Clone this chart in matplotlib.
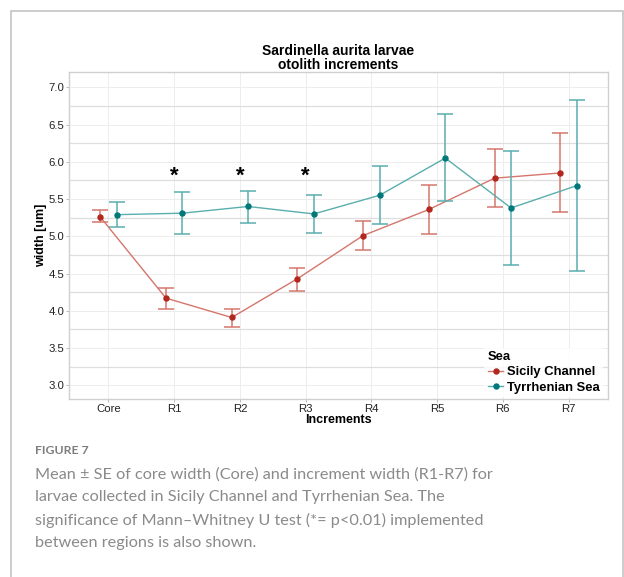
import numpy as np
import matplotlib.pyplot as plt
from matplotlib.lines import Line2D
from matplotlib.patches import Rectangle

# values
increments = ['Core', 'R1', 'R2', 'R3', 'R4', 'R5', 'R6', 'R7']
sicily_mean = [5.26, 4.17, 3.91, 4.43, 5.01, 5.36, 5.78, 5.85]
sicily_lo = [5.19, 4.03, 3.78, 4.27, 4.81, 5.03, 5.39, 5.32]
sicily_hi = [5.35, 4.30, 4.03, 4.58, 5.21, 5.69, 6.17, 6.38]
tyrr_mean = [5.29, 5.31, 5.40, 5.30, 5.55, 6.05, 5.38, 5.68]
tyrr_lo = [5.12, 5.03, 5.18, 5.04, 5.16, 5.47, 4.61, 4.53]
tyrr_hi = [5.46, 5.60, 5.61, 5.56, 5.95, 6.64, 6.14, 6.83]
signif = ['R1', 'R2', 'R3']

red_pt, red_ln = '#b2271e', '#d4766c'
teal_pt, teal_ln = '#00787a', '#5aaeae'

plt.rcParams['font.family'] = ['Liberation Sans', 'DejaVu Sans']

fig = plt.figure(figsize=(6.24, 5.77), dpi=100)
ax = fig.add_axes([69/624, 1 - 399/577, (608 - 69)/624, (399 - 72)/577])

x = np.arange(len(increments))
dodge = 0.125

def draw(xs, mean, lo, hi, pc, lc):
    mean = np.array(mean)
    err = [mean - np.array(lo), np.array(hi) - mean]
    ax.errorbar(xs, mean, yerr=err, fmt='none', ecolor=lc, elinewidth=1.1,
                capsize=5.8, capthick=1.1, zorder=3)
    ax.plot(xs, mean, color=lc, lw=1.0, zorder=3)
    ax.plot(xs, mean, 'o', color=pc, ms=3.6, zorder=4)

draw(x - dodge, sicily_mean, sicily_lo, sicily_hi, red_pt, red_ln)
draw(x + dodge, tyrr_mean, tyrr_lo, tyrr_hi, teal_pt, teal_ln)

for s in signif:
    ax.text(increments.index(s), 5.80, '*', ha='center', va='center',
            fontsize=16, fontweight='bold', color='black')

ax.set_xlim(-0.6, 7.6)
ax.set_ylim(2.816, 7.205)
ax.set_xticks(x)
ax.set_xticklabels(increments)
ax.set_yticks(np.arange(3.0, 7.01, 0.5))
ax.set_yticklabels([f'{v:.1f}' for v in np.arange(3.0, 7.01, 0.5)])
ax.set_yticks(np.arange(3.25, 7.0, 0.5), minor=True)
ax.tick_params(axis='both', which='major', labelsize=8.2, colors='#b0b0b0',
               labelcolor='#222222', length=2.5, width=0.6, pad=1.0)
ax.tick_params(axis='y', which='minor', length=0)

ax.grid(True, which='major', color='#ededed', lw=0.7)
ax.grid(True, which='minor', axis='y', color='#dedede', lw=0.9)
ax.set_axisbelow(True)
for sp in ax.spines.values():
    sp.set_color('#d0d0d0')
    sp.set_linewidth(1.0)

ax.set_xlabel('Increments', fontsize=9, fontweight='bold', labelpad=0)
ax.set_ylabel('width [um]', fontsize=9, fontweight='bold', labelpad=1)
ax.set_title('Sardinella aurita larvae\notolith increments', fontsize=10,
             fontweight='bold', linespacing=1.0, pad=2)

handles = [
    Line2D([0], [0], color=red_ln, lw=1.0, marker='o', ms=3.6,
           markerfacecolor=red_pt, markeredgecolor=red_pt),
    Line2D([0], [0], color=teal_ln, lw=1.0, marker='o', ms=3.6,
           markerfacecolor=teal_pt, markeredgecolor=teal_pt),
]
leg = ax.legend(handles, ['Sicily Channel', 'Tyrrhenian Sea'], title='Sea',
                loc='lower right', bbox_to_anchor=(0.995, 0.0),
                prop={'size': 9.4, 'weight': 'bold'}, frameon=True,
                handlelength=1.2, handletextpad=0.3, labelspacing=0.25,
                borderpad=0.25, borderaxespad=0.15, fancybox=False)
leg.get_title().set_fontweight('bold')
leg.get_title().set_fontsize(9.4)
leg._legend_box.align = 'left'
leg.get_frame().set_edgecolor('white')
leg.get_frame().set_linewidth(0)

# outer frame of the figure panel
fig.patches.append(Rectangle((11/624, -0.05), (623 - 11)/624, 1.05 - 11/577,
                             transform=fig.transFigure, fill=False,
                             edgecolor='#c4c4c4', lw=1.2))

cap_font = ['Lato', 'DejaVu Sans']
fig.text(35/624, 1 - 451/577, 'FIGURE 7', fontsize=8.8, family=cap_font,
         color='#7d7d7d', va='center', fontweight='bold')
caption = ('Mean \u00b1 SE of core width (Core) and increment width (R1-R7) for\n'
           'larvae collected in Sicily Channel and Tyrrhenian Sea. The\n'
           'significance of Mann\u2013Whitney U test (*= p<0.01) implemented\n'
           'between regions is also shown.')
fig.text(35/624, 1 - 467/577, caption, fontsize=11.7, family=cap_font,
         color='#8a8a8a', va='top', linespacing=1.76)

fig.savefig('out.png', dpi=100)
